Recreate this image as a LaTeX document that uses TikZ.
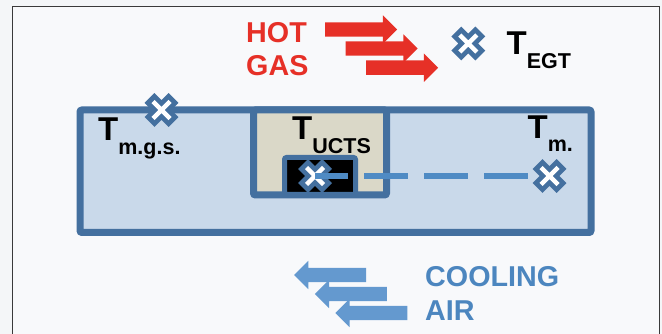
\documentclass[tikz,border=0pt]{standalone}
\usepackage{fontspec}
\setmainfont{Liberation Sans}
\usetikzlibrary{
  shapes.arrows
}
\definecolor{ink}{HTML}{000000}
\definecolor{paper}{HTML}{F4F6F8}
\definecolor{panel}{HTML}{F8F9FB}
\definecolor{frameline}{HTML}{3A3A3A}
\definecolor{steel}{HTML}{44709F}
\definecolor{steellight}{HTML}{C9D9EA}
\definecolor{sand}{HTML}{DAD8C8}
\definecolor{hotred}{HTML}{E63027}
\definecolor{coolblue}{HTML}{6499CF}
\definecolor{cooltext}{HTML}{4C86BF}
\definecolor{probeblue}{HTML}{4F8BC4}
\newcommand{\tlabel}[1]{%
  \fontsize{33}{33}\selectfont T\raisebox{-13.3pt}{\fontsize{21.5}{21.5}\selectfont #1}%
}
\tikzset{
  chamber/.style={
    draw=steel,
    line width=7pt,
    rounded corners=2pt,
    inner sep=0pt
  },
  probebox/.style={
    chamber,
    line width=5pt,
    fill=ink
  },
  sensor/.style={
    minimum size=36pt,
    inner sep=0pt,
    path picture={
      \begin{scope}[shift={(path picture bounding box.center)}]
        \draw[line width=14pt, steel] (-12,-12) -- (12,12) (-12,12) -- (12,-12);
        \draw[line width=4.5pt, white] (-8.5,-8.5) -- (8.5,8.5) (-8.5,8.5) -- (8.5,-8.5);
      \end{scope}
    }
  },
  probeline/.style={
    line width=5.5pt,
    draw=probeblue,
    dash pattern=on 44pt off 16pt,
    dash phase=11pt
  },
  flowarrow/.style={
    single arrow,
    single arrow tip angle=90,
    single arrow head extend=7pt,
    minimum height=72pt,
    minimum width=28pt,
    text height=14pt,
    text depth=0pt,
    inner sep=0pt
  },
  hotarrow/.style={flowarrow, fill=hotred},
  coolarrow/.style={flowarrow, fill=coolblue, shape border rotate=180},
  templabel/.style={
    anchor=base west,
    inner sep=0pt,
    font=\bfseries,
    text=ink
  },
  gaslabel/.style={
    anchor=base west,
    inner sep=0pt,
    align=left,
    font=\fontsize{28.7}{33.7}\selectfont\bfseries
  }
}
\begin{document}
\begin{tikzpicture}[x=1pt,y=-1pt]
  \useasboundingbox[fill=paper] (0,0) rectangle (662,334);
  \fill[panel] (12.5,334) -- (12.5,7) -- (659.5,7) -- (659.5,334) -- cycle;
  \draw[frameline, line width=1pt] (12.5,334) -- (12.5,7) -- (659.5,7) -- (659.5,334);

  \node[chamber, fill=steellight, minimum width=511pt, minimum height=122.5pt] (casing) at (335.5,171.25) {};
  \node[chamber, fill=sand, minimum width=133pt, minimum height=85pt] (ucts) at (320,152.5) {};
  \node[probebox, minimum width=71pt, minimum height=37pt] (probe) at (320,176) {};

  \foreach \k/\xc/\yc in {
    1/357.5/29.5,
    2/378/48.5,
    3/398.5/67.7
  }{
    \node[hotarrow] (hot\k) at (\xc,\yc) {};
  }
  \foreach \k/\xc/\yc in {
    1/333.8/275,
    2/354.5/294,
    3/375/313
  }{
    \node[coolarrow] (cool\k) at (\xc,\yc) {};
  }

  \node[sensor] (sucts) at (315,176) {};
  \node[sensor] (sm) at (549.5,176) {};
  \node[sensor] (smgs) at (161.5,110) {};
  \node[sensor] (segt) at (468.3,43.5) {};
  \draw[probeline] (sucts.center) -- (sm.west);

  \node[templabel] (tegt) at (506.5,55) {\tlabel{EGT}};
  \node[templabel] (tmgs) at (98,141) {\tlabel{m.g.s.}};
  \node[templabel] (tucts) at (292,140) {\tlabel{UCTS}};
  \node[templabel] (tmetal) at (527.5,138.5) {\tlabel{m.}};

  \node[gaslabel, text=hotred] (hotgas) at (246,76) {HOT\\GAS};
  \node[gaslabel, text=cooltext] (coolair) at (425,320.3) {COOLING\\AIR};
\end{tikzpicture}
\end{document}
